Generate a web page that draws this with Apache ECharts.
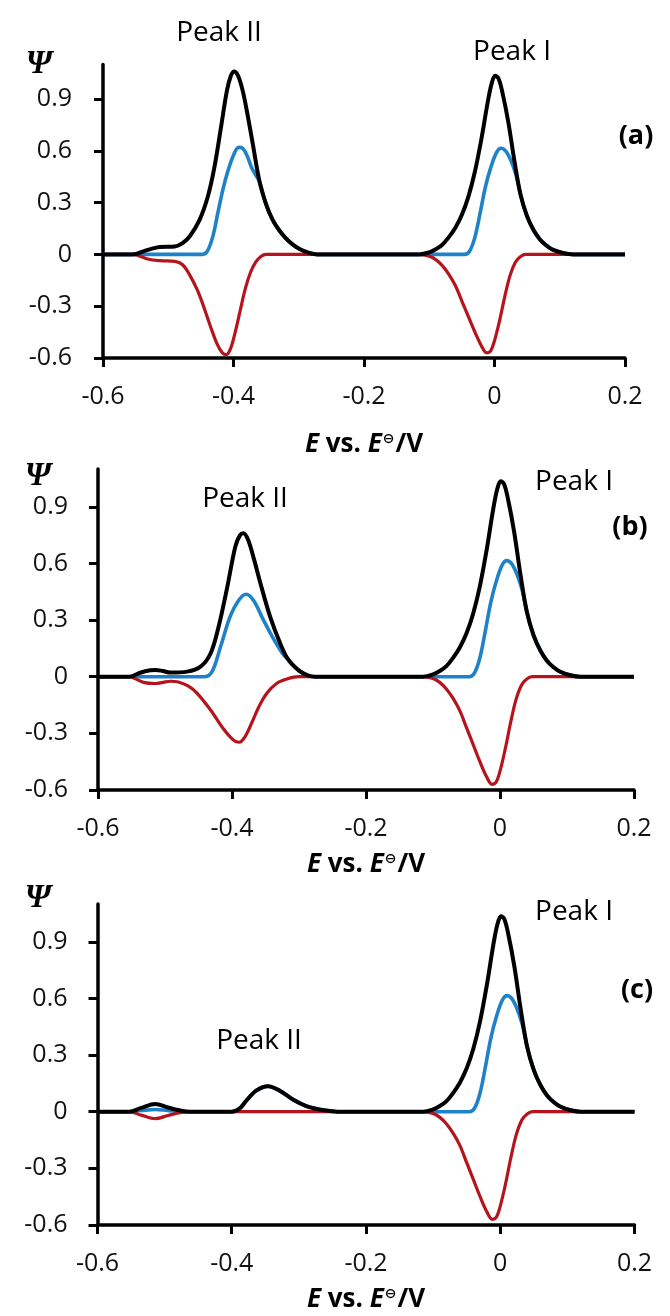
<!DOCTYPE html>
<html>
<head>
<meta charset="utf-8">
<title>SWV peaks</title>
<script src="https://cdn.jsdelivr.net/npm/echarts@6/dist/echarts.min.js"></script>
<style>
  html, body { margin: 0; padding: 0; background: #fff; }
  #chart { width: 670px; height: 1316px; }
</style>
</head>
<body>
<div id="chart"></div>
<script>
// axis ticks
const xTicks = [-0.6, -0.4, -0.2, 0, 0.2];
const yTicks = [-0.6, -0.3, 0, 0.3, 0.6, 0.9];
const panelTags = ["(a)", "(b)", "(c)"];

// peak I, same in every panel
const peakIBlack = [[-0.115, 0], [-0.1, 0.012], [-0.09, 0.03], [-0.08, 0.056], [-0.07, 0.1], [-0.06, 0.155], [-0.05, 0.23], [-0.04, 0.335], [-0.03, 0.48], [-0.02, 0.67], [-0.01, 0.89], [-0.004, 0.995], [0.001, 1.035], [0.006, 1.02], [0.012, 0.94], [0.021, 0.77], [0.031, 0.53], [0.04, 0.345], [0.05, 0.22], [0.06, 0.14], [0.07, 0.085], [0.08, 0.05], [0.09, 0.026], [0.105, 0.008], [0.12, 0], [0.2, 0]];
const peakIBlue = [[-0.046, 0], [-0.038, 0.02], [-0.03, 0.1], [-0.022, 0.24], [-0.014, 0.39], [-0.006, 0.5], [0.003, 0.59], [0.01, 0.615], [0.017, 0.6], [0.025, 0.545], [0.033, 0.46], [0.04, 0.345], [0.05, 0.22], [0.06, 0.14], [0.07, 0.085], [0.08, 0.05], [0.09, 0.026], [0.105, 0.008], [0.12, 0], [0.2, 0]];
const peakIRed = [[-0.115, 0], [-0.1, -0.01], [-0.09, -0.03], [-0.08, -0.065], [-0.07, -0.115], [-0.06, -0.18], [-0.05, -0.27], [-0.04, -0.36], [-0.03, -0.45], [-0.02, -0.53], [-0.012, -0.57], [-0.006, -0.56], [0, -0.5], [0.008, -0.38], [0.016, -0.24], [0.024, -0.12], [0.032, -0.045], [0.04, -0.012], [0.048, 0], [0.2, 0]];

// peak II, panel (a)
const blackA = [[-0.6, 0], [-0.555, 0], [-0.53, 0.028], [-0.513, 0.043], [-0.49, 0.046], [-0.478, 0.065], [-0.467, 0.105], [-0.452, 0.2], [-0.439, 0.34], [-0.429, 0.51], [-0.419, 0.74], [-0.41, 0.95], [-0.404, 1.035], [-0.399, 1.06], [-0.393, 1.035], [-0.386, 0.95], [-0.378, 0.8], [-0.37, 0.63], [-0.36, 0.42], [-0.35, 0.29], [-0.34, 0.2], [-0.33, 0.14], [-0.32, 0.095], [-0.31, 0.06], [-0.298, 0.03], [-0.285, 0.01], [-0.272, 0]];
const blueA = [[-0.6, 0], [-0.448, 0], [-0.44, 0.02], [-0.432, 0.1], [-0.424, 0.24], [-0.416, 0.38], [-0.408, 0.49], [-0.4, 0.575], [-0.392, 0.62], [-0.386, 0.615], [-0.379, 0.57], [-0.372, 0.5], [-0.366, 0.46], [-0.36, 0.42], [-0.35, 0.29], [-0.34, 0.2], [-0.33, 0.14], [-0.32, 0.095], [-0.31, 0.06], [-0.298, 0.03], [-0.285, 0.01], [-0.272, 0]];
const redA = [[-0.6, 0], [-0.555, 0], [-0.53, -0.028], [-0.513, -0.036], [-0.49, -0.04], [-0.478, -0.06], [-0.467, -0.12], [-0.455, -0.21], [-0.445, -0.31], [-0.435, -0.42], [-0.425, -0.52], [-0.417, -0.57], [-0.411, -0.58], [-0.405, -0.55], [-0.398, -0.46], [-0.39, -0.33], [-0.382, -0.2], [-0.374, -0.105], [-0.366, -0.045], [-0.358, -0.012], [-0.35, 0]];

// peak II, panel (b)
const blackB = [[-0.6, 0], [-0.553, 0], [-0.537, 0.021], [-0.522, 0.034], [-0.514, 0.036], [-0.503, 0.03], [-0.492, 0.022], [-0.467, 0.027], [-0.447, 0.053], [-0.432, 0.123], [-0.42, 0.265], [-0.407, 0.476], [-0.395, 0.69], [-0.388, 0.75], [-0.383, 0.76], [-0.376, 0.725], [-0.367, 0.62], [-0.358, 0.5], [-0.343, 0.317], [-0.328, 0.176], [-0.316, 0.09], [-0.3, 0.032], [-0.287, 0.007], [-0.276, 0]];
const blueB = [[-0.6, 0], [-0.442, 0], [-0.43, 0.026], [-0.417, 0.16], [-0.403, 0.317], [-0.39, 0.405], [-0.379, 0.437], [-0.368, 0.405], [-0.353, 0.3], [-0.338, 0.2], [-0.325, 0.125], [-0.316, 0.09], [-0.3, 0.032], [-0.287, 0.007], [-0.276, 0]];
const redB = [[-0.6, 0], [-0.553, 0], [-0.545, -0.01], [-0.532, -0.03], [-0.515, -0.036], [-0.503, -0.03], [-0.492, -0.024], [-0.48, -0.028], [-0.465, -0.05], [-0.452, -0.088], [-0.432, -0.176], [-0.412, -0.28], [-0.398, -0.335], [-0.389, -0.347], [-0.38, -0.315], [-0.37, -0.24], [-0.36, -0.16], [-0.348, -0.088], [-0.333, -0.035], [-0.318, -0.012], [-0.3, 0]];

// peak II, panel (c)
const blackC = [[-0.6, 0], [-0.553, 0], [-0.535, 0.02], [-0.514, 0.041], [-0.495, 0.022], [-0.475, 0.005], [-0.462, 0], [-0.4, 0], [-0.388, 0.018], [-0.378, 0.06], [-0.363, 0.113], [-0.346, 0.135], [-0.328, 0.11], [-0.309, 0.065], [-0.289, 0.03], [-0.269, 0.012], [-0.25, 0.002], [-0.243, 0]];
const blueC = [[-0.6, 0], [-0.553, 0], [-0.535, 0.006], [-0.514, 0.012], [-0.495, 0.006], [-0.475, 0.001], [-0.462, 0], [-0.4, 0], [-0.388, 0.018], [-0.378, 0.06], [-0.363, 0.113], [-0.346, 0.135], [-0.328, 0.11], [-0.309, 0.065], [-0.289, 0.03], [-0.269, 0.012], [-0.25, 0.002], [-0.243, 0]];
const redC = [[-0.6, 0], [-0.553, 0], [-0.535, -0.018], [-0.514, -0.037], [-0.495, -0.02], [-0.475, -0.004], [-0.462, 0]];

const blackSeries = [blackA, blackB, blackC];
const blueSeries = [blueA, blueB, blueC];
const redSeries = [redA, redB, redC];

const chart = echarts.init(document.getElementById("chart"));

// grid boxes
const grids = [
  { left: 103, top: 64.5, width: 522, height: 293.5 },
  { left: 98, top: 469, width: 536, height: 321 },
  { left: 97.5, top: 904, width: 537, height: 321 },
];
const nameGaps = [74, 62, 62];
const yMargins = [31, 30, 30];

const txt = "#111";
const sans = "Open Sans";

let xAxes = [], yAxes = [], series = [];
grids.forEach((g, i) => {
  xAxes.push({
    type: "value", gridIndex: i, min: -0.6, max: 0.2, interval: 0.2,
    axisLine: { onZero: false, lineStyle: { color: "#000", width: 3.5 } },
    axisTick: { length: 9, lineStyle: { color: "#000", width: 3 } },
    axisLabel: { customValues: xTicks, margin: 26, fontSize: 25, color: txt, fontFamily: sans },
    splitLine: { show: false },
    name: "{i|E}{b| vs. }{i|E}{s|⊖}{b|/V}",
    nameLocation: "middle", nameGap: nameGaps[i],
    nameTextStyle: {
      rich: {
        i: { fontSize: 26, fontWeight: "bold", fontStyle: "italic", fontFamily: sans, color: "#000" },
        b: { fontSize: 26, fontWeight: "bold", fontFamily: sans, color: "#000" },
        s: { fontSize: 14, fontWeight: "bold", fontFamily: "DejaVu Sans", color: "#000", verticalAlign: "top", padding: [0, 1, 11, 1] },
      },
    },
  });
  yAxes.push({
    type: "value", gridIndex: i, min: -0.6, max: 1.1, interval: 0.3,
    axisLine: { onZero: false, lineStyle: { color: "#000", width: 3.5 } },
    axisTick: { length: 9, customValues: yTicks, lineStyle: { color: "#000", width: 3 } },
    axisLabel: { customValues: yTicks, margin: yMargins[i], fontSize: 25, color: txt, fontFamily: sans },
    splitLine: { show: false },
  });
  const line = (name, data, color, w) => ({
    name, type: "line", xAxisIndex: i, yAxisIndex: i,
    data, smooth: 0.35, showSymbol: false, symbol: "none",
    lineStyle: { color, width: w }, silent: true, animation: false,
  });
  series.push(line("forward", blueSeries[i].concat(peakIBlue), "#1f82c8", 3.6));
  series.push(line("backward", redSeries[i].concat(peakIRed), "#b5141c", 3.2));
  series.push(line("net", blackSeries[i].concat(peakIBlack), "#000", 4));
});

// annotations
const label = (text, x, y, font) => ({
  type: "text", x, y,
  style: { text, font, fill: "#000", align: "center", verticalAlign: "middle", textAlign: "center", textVerticalAlign: "middle" },
});
const peakFont = "28px 'Open Sans'";
const tagFont = "bold 27px 'Open Sans'";
const psiFont = "bold italic 33px 'Liberation Serif'";
const graphic = [
  label("Peak II", 219, 33, peakFont),
  label("Peak I", 512, 52, peakFont),
  label(panelTags[0], 636, 136, tagFont),
  label("Ψ", 39, 64, psiFont),
  label("Peak II", 245, 499, peakFont),
  label("Peak I", 574, 482, peakFont),
  label(panelTags[1], 630, 527, tagFont),
  label("Ψ", 38, 476, psiFont),
  label("Peak II", 259, 1041, peakFont),
  label("Peak I", 574, 912, peakFont),
  label(panelTags[2], 637, 990, tagFont),
  label("Ψ", 38, 898, psiFont),
];

chart.setOption({
  animation: false,
  grid: grids.map(g => Object.assign({ outerBoundsMode: "none", containLabel: false }, g)),
  xAxis: xAxes,
  yAxis: yAxes,
  series,
  graphic,
});
</script>
</body>
</html>
